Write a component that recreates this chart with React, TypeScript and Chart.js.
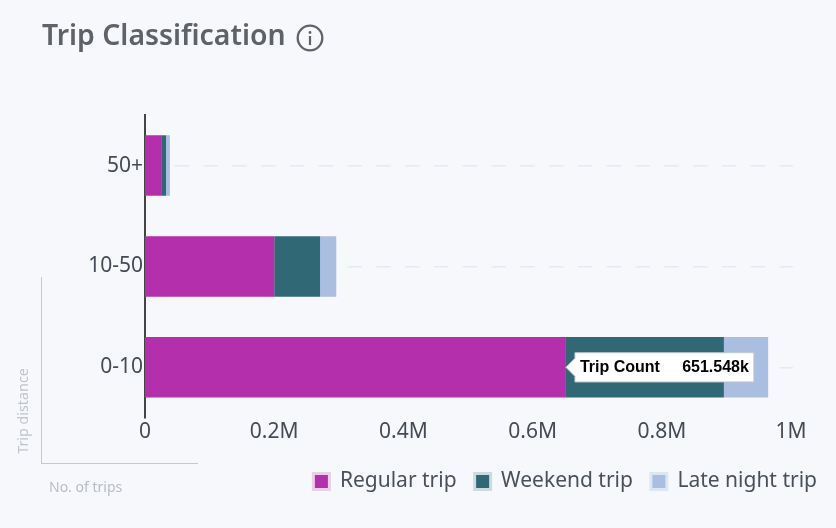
import React, { useEffect, useRef } from "react";
import { Chart, registerables } from "chart.js";

Chart.register(...registerables);

const categories = ["50+", "10-50", "0-10"];
const regularTrip = [25000, 200000, 651548];
const weekendTrip = [7500, 71000, 244500];
const lateNightTrip = [6000, 25000, 68500];
const xTicks = [0, 200000, 400000, 600000, 800000, 1000000];
const seriesNames = ["Regular trip", "Weekend trip", "Late night trip"];
const seriesColors = ["#b32fab", "#316875", "#a9bee0"];
const legendEdges = ["#e9cfe8", "#cbdbe0", "#dde6f3"];

const BG = "#f6f8fc";
const FONT = '"Noto Sans", sans-serif';

export default function App() {
  const ref = useRef<HTMLCanvasElement>(null);
  useEffect(() => {
    const chart = new Chart(ref.current!, {
      type: "bar",
      data: {
        labels: categories,
        datasets: [regularTrip, weekendTrip, lateNightTrip].map((data, i) => ({
          label: seriesNames[i],
          data,
          backgroundColor: seriesColors[i],
          categoryPercentage: 1,
          barPercentage: 0.6,
        })),
      },
      options: {
        indexAxis: "y",
        animation: false,
        responsive: false,
        devicePixelRatio: 1,
        events: [],
        layout: { padding: { left: 42, right: 1, top: 0, bottom: 26 } },
        scales: {
          x: {
            stacked: true,
            min: 0,
            max: 1003000,
            afterBuildTicks: (s: any) => {
              s.ticks = xTicks.map((value) => ({ value }));
            },
            afterFit: (s: any) => {
              s.paddingRight = 43;
              s.height += 6;
            },
            border: { display: false },
            grid: { display: false, drawTicks: false },
            ticks: {
              padding: 2,
              maxRotation: 0,
              autoSkip: false,
              color: "#454b54",
              font: { family: FONT, size: 21 },
              callback: (v: any) => (v === 0 ? "0" : `${v / 1000000}M`),
            },
          },
          y: {
            stacked: true,
            afterFit: (s: any) => {
              s.width = 103;
            },
            border: { display: true, color: "#444444", width: 2, dash: [14.4, 14.4] },
            grid: {
              offset: false,
              drawTicks: false,
              color: "#e4e9f2",
              lineWidth: 1.5,
            },
            ticks: {
              padding: 2,
              color: "#454b54",
              font: { family: FONT, size: 21 },
            },
          },
        },
        plugins: {
          title: {
            display: true,
            text: "Trip Classification",
            align: "start",
            color: "#5f6368",
            font: { family: FONT, size: 28.4, weight: "600" },
            padding: { top: 20, bottom: 61 },
          },
          legend: {
            display: true,
            position: "bottom",
            align: "end",
            labels: {
              color: "#4a505a",
              font: { family: FONT, size: 21 },
              boxWidth: 16,
              boxHeight: 16,
              padding: 18,
              generateLabels: () =>
                seriesNames.map((text, i) => ({
                  text,
                  fillStyle: seriesColors[i],
                  strokeStyle: legendEdges[i],
                  lineWidth: 3,
                  datasetIndex: i,
                  fontColor: "#4a505a",
                })),
            },
          },
          tooltip: {
            enabled: true,
            position: "nearest",
            xAlign: "left",
            yAlign: "center",
            backgroundColor: "#ffffff",
            borderColor: "#c2c7ce",
            borderWidth: 1,
            cornerRadius: 0,
            caretSize: 9,
            caretPadding: 0,
            displayColors: false,
            bodyColor: "#000000",
            bodyFont: { family: '"Liberation Sans", Arial, sans-serif', size: 16, weight: "bold" },
            padding: { left: 5, right: 5, top: 5, bottom: 5 },
            callbacks: {
              title: () => "",
              label: (c: any) => `Trip Count     ${(c.raw / 1000).toFixed(3)}k`,
            },
          },
        },
      },
    } as any);
    chart.tooltip!.setActiveElements([{ datasetIndex: 0, index: 2 }], { x: 566, y: 367 });
    chart.update();
    return () => chart.destroy();
  }, []);

  return (
    <div style={{ position: "fixed", inset: 0, width: 836, height: 528, background: BG, overflow: "hidden", fontFamily: FONT }}>
      <canvas ref={ref} width={836} height={528} style={{ display: "block", position: "absolute", left: 0, top: 0 }} />
      <svg width={30} height={30} viewBox="0 0 30 30" style={{ position: "absolute", left: 295, top: 23 }}>
        <circle cx={15} cy={15} r={12.3} fill="none" stroke="#5f6368" strokeWidth={2.3} />
        <circle cx={15} cy={9.5} r={1.4} fill="#5f6368" />
        <rect x={13.9} y={13} width={2.2} height={9} fill="#5f6368" />
      </svg>
      <div style={{ position: "absolute", left: 41, top: 277, width: 156, height: 186, borderLeft: "1px solid #c6c9d0", borderBottom: "1px solid #c6c9d0" }} />
      <div style={{ position: "absolute", left: 22, top: 411, transform: "translate(-50%,-50%) rotate(-90deg)", whiteSpace: "nowrap", fontSize: 14.3, color: "#c0c4cb" }}>Trip distance</div>
      <div style={{ position: "absolute", left: 49, top: 477, whiteSpace: "nowrap", fontSize: 14, color: "#b8bcc4" }}>No. of trips</div>
    </div>
  );
}
